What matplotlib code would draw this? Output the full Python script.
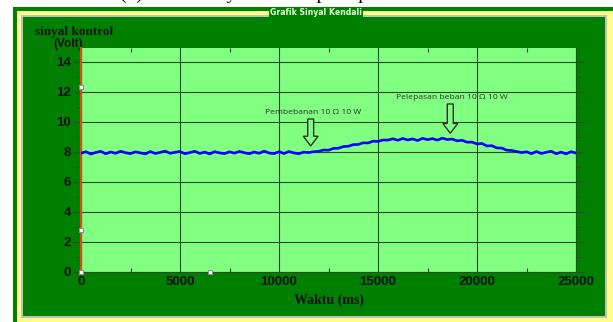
import matplotlib
matplotlib.use("Agg")
import matplotlib.pyplot as plt
from matplotlib.patches import Rectangle, FancyArrow
from matplotlib.ticker import MultipleLocator

# ---------------- data ----------------
time_ms = list(range(0, 25001, 250))
signal_volt = [
    7.92, 8.02, 7.86, 7.97, 8.04, 7.88, 8.00, 7.91, 8.05, 7.95,
    7.89, 8.01, 7.94, 7.87, 8.03, 7.90, 7.97, 8.06, 7.91, 7.98,
    8.03, 7.88, 7.96, 8.05, 7.90, 7.99, 7.87, 8.02, 7.94, 7.89,
    8.01, 7.92, 8.04, 7.95, 7.88, 8.00, 7.91, 8.06, 7.93, 7.89,
    8.02, 7.90, 8.03, 7.94, 7.88, 7.99, 7.96,
    8.02, 8.04, 8.13, 8.12, 8.24, 8.25, 8.36, 8.38, 8.49, 8.50,
    8.61, 8.60, 8.72, 8.70, 8.80, 8.79,
    8.88, 8.78, 8.90, 8.80, 8.87, 8.76, 8.91, 8.82, 8.89, 8.79,
    8.92, 8.83, 8.86,
    8.74, 8.78, 8.65, 8.66, 8.53, 8.57, 8.40, 8.42, 8.27, 8.26,
    8.12, 8.10, 8.03, 7.96,
    8.01, 7.89, 8.03, 7.90, 7.98, 8.05, 7.88, 7.99, 7.87, 8.02,
    7.93,
]
x_ticks = [0, 5000, 10000, 15000, 20000, 25000]
y_ticks = [0, 2, 4, 6, 8, 10, 12, 14]
event_labels = ["Pembebanan 10 \u03a9 10 W", "Pelepasan beban 10 \u03a9 10 W"]
event_times = [11600, 18650]
event_text_y = [10.65, 11.65]
event_arrow_top = [10.2, 11.2]
event_arrow_bottom = [8.4, 9.25]
cursor_x = [0, 0, 0, 6500]
cursor_y = [12.3, 2.8, 0, 0]

# ---------------- figure ----------------
W, H = 613, 322
fig = plt.figure(figsize=(W / 100, H / 100), dpi=100)
fig.patch.set_facecolor("white")

def px_rect(x0, y0, x1, y1, color, z):
    r = Rectangle((x0 / W, 1 - y1 / H), (x1 - x0) / W, (y1 - y0) / H,
                  transform=fig.transFigure, facecolor=color, edgecolor="none",
                  zorder=z)
    fig.patches.append(r)

DG = "#008000"
GRID = "#2A4A2A"
fig.text(120 / W, 1 + 1.5 / H, "(b) Grafik sinyal kontrol pada perubahan beban",
         family="Liberation Serif", fontsize=14, va="baseline", ha="left",
         color="black", zorder=0)
px_rect(13, 7, 613, 322, DG, 1)
px_rect(17, 11, 613, 322, "#FFFF88", 2)
px_rect(21, 15, 607, 318, "#C0C0C0", 3)
px_rect(23, 17, 605, 316, DG, 4)

fig.text(316 / W, 1 - 12.5 / H, "Grafik Sinyal Kendali", ha="center", va="center",
         family="DejaVu Sans", fontweight="bold", fontsize=5.6, color="#E8FFD8",
         zorder=6,
         bbox=dict(boxstyle="square,pad=0.15", facecolor=DG, edgecolor="none"))

ax = fig.add_axes([81 / W, 1 - 272 / H, 495 / W, 224 / H], zorder=10)
ax.set_facecolor("#80FF80")
ax.set_xlim(0, 25000)
ax.set_ylim(0, 14.93)

ax.plot(time_ms, signal_volt, color="#0000FF", lw=1.9, zorder=5)

ax.set_xticks(x_ticks)
ax.set_yticks(y_ticks)
ax.xaxis.set_minor_locator(MultipleLocator(2500))
ax.yaxis.set_minor_locator(MultipleLocator(1))
ax.grid(True, which="major", color=GRID, lw=0.8)
ax.set_axisbelow(True)

ax.spines["top"].set_visible(False)
ax.spines["right"].set_color(GRID)
ax.spines["right"].set_linewidth(0.8)
ax.spines["bottom"].set_color(GRID)
ax.spines["bottom"].set_linewidth(0.8)
ax.spines["left"].set_color("#D05010")
ax.spines["left"].set_linewidth(1.6)

ax.tick_params(axis="y", which="major", direction="out", length=6, width=0.8,
               color=GRID, pad=1, labelsize=9.5, right=True)
ax.tick_params(axis="y", which="minor", direction="out", length=3, width=0.8,
               color=GRID, right=True)
ax.tick_params(axis="x", which="major", direction="in", length=0, pad=3,
               labelsize=9.5)
ax.tick_params(axis="x", which="minor", direction="in", length=3, width=0.8,
               color=GRID, top=True)
for lab in ax.get_xticklabels() + ax.get_yticklabels():
    lab.set_fontweight("bold")
    lab.set_family("Liberation Sans")
    lab.set_color("#101010")

ax.set_xlabel("Waktu (ms)", family="Liberation Serif", fontweight="bold",
              fontsize=10, color="#101010", labelpad=4)

fig.text(35 / W, 1 - 31.5 / H, "sinyal kontrol", family="Liberation Serif",
         fontweight="bold", fontsize=9.5, ha="left", va="center", color="#101010",
         zorder=6)
fig.text(83 / W, 1 - 44.5 / H, "(Volt)", family="Liberation Sans",
         fontweight="bold", fontsize=8.5, ha="right", va="center",
         color="#101010", zorder=6)

# annotations
for lab, tx, ty, ya, yb in zip(event_labels, event_times, event_text_y,
                               event_arrow_top, event_arrow_bottom):
    ax.text(tx + 100, ty, lab, ha="center", va="center", fontsize=6.1,
            family="Open Sans", color="#303030", zorder=7)
    arr = FancyArrow(tx, ya, 0, yb - ya, width=300, head_width=750,
                     head_length=0.65, length_includes_head=True,
                     facecolor="#80FF80", edgecolor="#303030", lw=1.0, zorder=7)
    ax.add_patch(arr)

ax.plot(cursor_x, cursor_y, ls="none", marker="s", ms=3.5, mfc="white",
        mec="#909090", mew=0.8, clip_on=False, zorder=8)

fig.savefig("out.png", dpi=100, facecolor=fig.get_facecolor())
